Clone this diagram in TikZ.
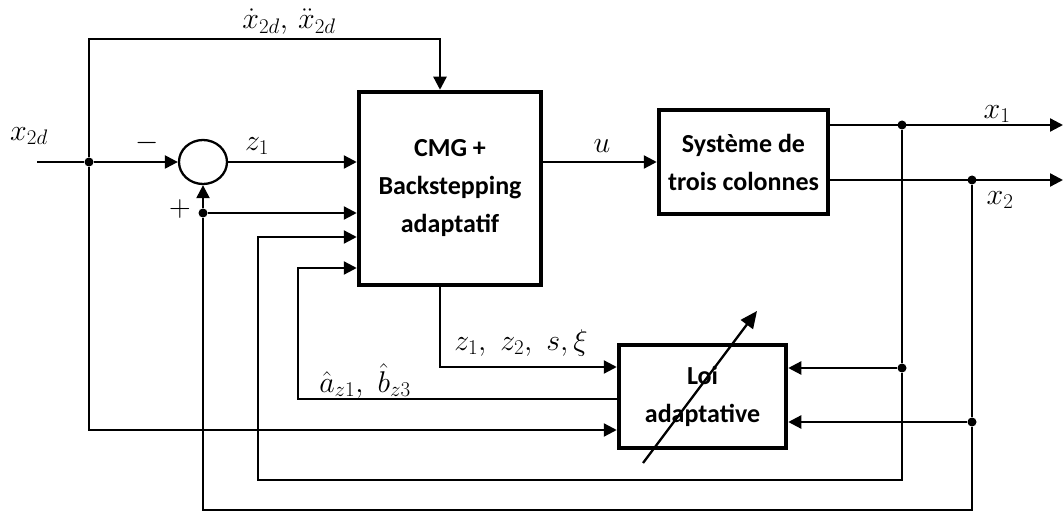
\RequirePackage{fix-cm}
\documentclass[tikz,border=0pt]{standalone}
\usepackage{fontspec}
\newfontfamily\boxfont{Carlito}
\usetikzlibrary{arrows.meta,shapes.geometric}
\begin{document}
\begin{tikzpicture}[x=1pt,y=-1pt,
  conn/.style={line width=2.3pt},
  arr/.style={conn,-{Triangle[length=13pt,width=13pt]}},
  blk/.style={draw,line width=4.5pt,fill=white,align=center,
    font=\boxfont\bfseries\fontsize{26}{38}\selectfont,inner sep=0pt},
  dot/.style={circle,fill,inner sep=0pt,minimum size=9pt},
  lbl/.style={font=\fontsize{30}{34}\selectfont,inner sep=0pt}
]
\useasboundingbox (0,0) rectangle (1063,518);

% blocks
\node[blk,minimum width=182pt,minimum height=193pt] (cmg) at (450,188.5) {CMG +\\Backstepping\\adaptatif};
\node[blk,minimum width=169pt,minimum height=104pt] (sys) at (743.5,162) {Système de\\trois colonnes};
\node[blk,minimum width=167pt,minimum height=103pt] (loi) at (702.5,396.5) {Loi\\adaptative};
\node[draw,ellipse,line width=2.3pt,minimum width=48pt,minimum height=44pt,inner sep=0pt] (sum) at (203,162) {};

% coordinates and dots
\coordinate (in) at (37,162);
\node[dot] (j1) at (89,162) {};
\coordinate (t1) at (89,39);
\coordinate (t2) at (440,39);
\coordinate (b1) at (89,430);
\coordinate (o1) at (1063,125);
\coordinate (o2) at (1063,180);
\node[dot] (d1) at (902,125) {};
\node[dot] (d2) at (972,180) {};
\node[dot] (d3) at (902,368) {};
\node[dot] (d4) at (972,422) {};
\coordinate (c1) at (902,480);
\coordinate (c2) at (258,480);
\coordinate (c3) at (258,237);
\coordinate (k1) at (972,510);
\coordinate (k2) at (203,510);
\node[dot] (d5) at (203,213) {};
\coordinate (e1) at (440,367);
\coordinate (f1) at (298,399);
\coordinate (f2) at (298,268);
\coordinate (g1) at (643,463);
\coordinate (g2) at (757,311);

% connectors
\draw[conn] (in) -- (j1);
\draw[arr] (j1) -- (sum.west);
\draw[arr] (j1) -- (t1) -- (t2) -- (t2 |- cmg.north);
\draw[arr] (j1) -- (b1) -- (b1 -| loi.west);
\draw[arr] (sum.east) -- (sum.east -| cmg.west);
\draw[arr] (cmg.east |- sys.west) -- (sys.west);
\draw[arr] (sys.east |- o1) -- (o1);
\draw[arr] (sys.east |- o2) -- (o2);
\draw[conn] (d1) -- (d3);
\draw[arr] (d3) -- (d3 -| loi.east);
\draw[arr] (d3) -- (c1) -- (c2) -- (c3) -- (c3 -| cmg.west);
\draw[conn] (d2) -- (d4);
\draw[arr] (d4) -- (d4 -| loi.east);
\draw[conn] (d4) -- (k1) -- (k2) -- (d5);
\draw[arr] (d5) -- (sum.south);
\draw[arr] (d5) -- (d5 -| cmg.west);
\draw[arr] (t2 |- cmg.south) -- (e1) -- (e1 -| loi.west);
\draw[arr] (loi.west |- f1) -- (f1) -- (f2) -- (f2 -| cmg.west);
\draw[conn,-{Triangle[length=17pt,width=15pt]}] (g1) -- (g2);

% labels
\node[lbl] (ld) at (289,22) {$\dot{x}_{2d},\,\ddot{x}_{2d}$};
\node[lbl] (lx) at (29,136) {$x_{2d}$};
\node[lbl] (lm) at (147,143) {$-$};
\node[lbl] (lp) at (180,209) {$+$};
\node[lbl] (lz) at (257,146) {$z_1$};
\node[lbl] (lu) at (602,146) {$u$};
\node[lbl] (lx1) at (997,114) {$x_1$};
\node[lbl] (lx2) at (1000,200) {$x_2$};
\node[lbl] (lzs) at (521,343) {$z_1,\ z_2,\ s,\xi$};
\node[lbl] (lab) at (365,381) {$\hat{a}_{z1},\ \hat{b}_{z3}$};
\end{tikzpicture}
\end{document}
